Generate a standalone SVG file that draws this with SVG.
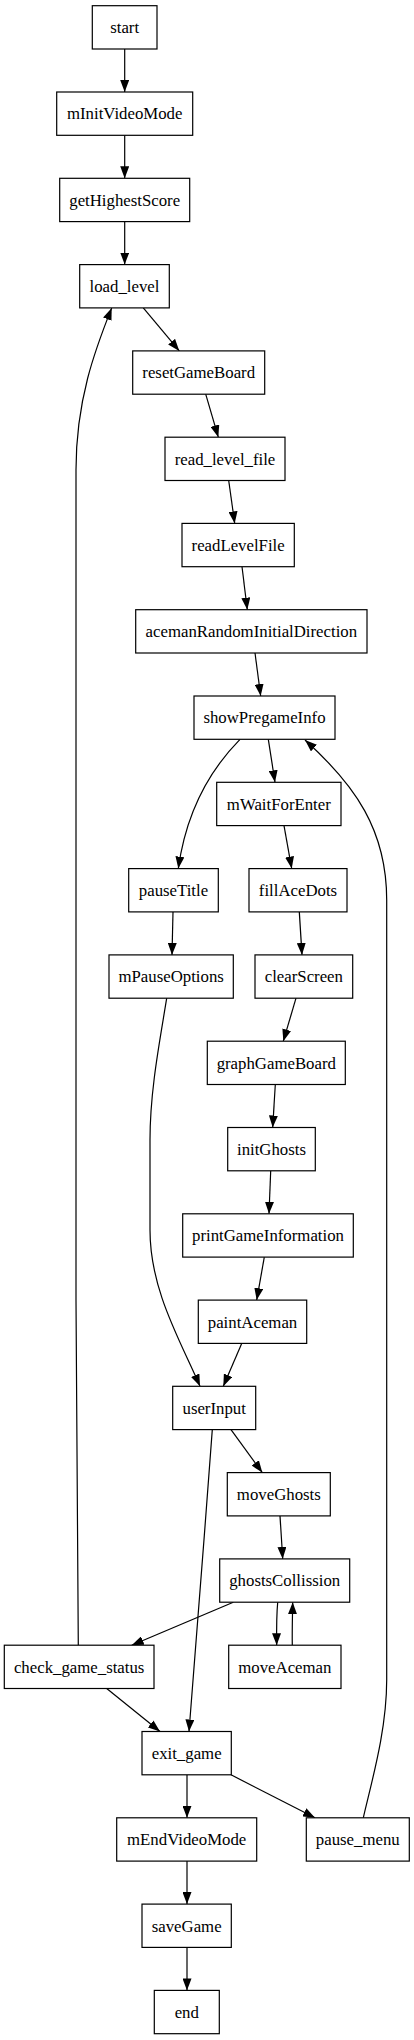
<svg xmlns="http://www.w3.org/2000/svg" width="414" height="2040" viewBox="0 0 414 2040">
<style>
.n rect{fill:#fff;stroke:#000;stroke-width:1.2}
.n text{font-family:"Liberation Serif","Times New Roman",serif;font-size:16.8px;fill:#000;text-anchor:middle}
.e path{fill:none;stroke:#000;stroke-width:1.2;marker-end:url(#ah)}
</style>
<defs>
<marker id="ah" viewBox="0 0 12 9" refX="12" refY="4.5" markerWidth="12" markerHeight="9" markerUnits="userSpaceOnUse" orient="auto">
<path d="M0,0 L12,4.5 L0,9 Z" fill="#000"/>
</marker>
</defs>
<rect width="414" height="2040" fill="#fff"/>
<g id="edges" class="e">
<path d="M124.7,49 L124.7,92"/>
<path d="M124.7,135.3 L124.7,178.3"/>
<path d="M124.7,221.6 L124.7,264.6"/>
<path d="M143.3,307.9 L179.3,350.9"/>
<path d="M205.7,394.2 L218.3,437.2"/>
<path d="M228.7,480.5 L234.7,523.4"/>
<path d="M242,566.7 L247.3,609.7"/>
<path d="M255,653 L260.7,696"/>
<path d="M268.3,739.3 L275,782.3"/>
<path d="M240,739.3 C205,775 185,820 178.3,868.6"/>
<path d="M284,825.6 L291.7,868.6"/>
<path d="M173,911.9 L172,954.9"/>
<path d="M299.3,911.9 L302,954.9"/>
<path d="M296,998.2 L283.3,1041.2"/>
<path d="M275.3,1084.5 L272.7,1127.5"/>
<path d="M270.7,1170.8 L269,1213.8"/>
<path d="M264.3,1257.1 L256.7,1300.1"/>
<path d="M241.7,1343.4 L223.3,1386.3"/>
<path d="M166.7,998.2 C160,1040 150,1090 150,1140 L150,1230 C150,1290 180,1340 200,1386.3"/>
<path d="M231,1429.6 L262.3,1472.6"/>
<path d="M212.3,1429.6 C205,1530 196,1640 189,1731.5"/>
<path d="M280,1515.9 L282.7,1558.9"/>
<path d="M233.3,1602.2 L131.7,1645.2"/>
<path d="M277.7,1602.2 C276.5,1615 276.5,1630 276.7,1645.2"/>
<path d="M292.3,1645.2 C292,1632 292.5,1615 292.7,1602.2"/>
<path d="M78.3,1645.2 C77.5,1550 76,1450 76,1300 L76,470 C76,400 95,350 111.7,307.9"/>
<path d="M106.7,1688.5 L160,1731.5"/>
<path d="M187,1774.8 L187,1817.8"/>
<path d="M231,1774.8 L315,1817.8"/>
<path d="M363.3,1817.8 C372,1780 386.7,1730 386.7,1680 L386.7,900 C386.7,830 355,785 305,740"/>
<path d="M187,1861.1 L187,1904.1"/>
<path d="M187,1947.4 L187,1990.4"/>
</g>
<g id="start" class="n"><rect x="92.3" y="5.7" width="64.7" height="43.3"/><text x="124.65" y="33.15">start</text></g>
<g id="mInitVideoMode" class="n"><rect x="56.7" y="92" width="136" height="43.3"/><text x="124.7" y="119.45">mInitVideoMode</text></g>
<g id="getHighestScore" class="n"><rect x="59.7" y="178.3" width="130" height="43.3"/><text x="124.7" y="205.75">getHighestScore</text></g>
<g id="load_level" class="n"><rect x="79.7" y="264.6" width="89.6" height="43.3"/><text x="124.5" y="292.05">load_level</text></g>
<g id="resetGameBoard" class="n"><rect x="132.7" y="350.9" width="132" height="43.3"/><text x="198.7" y="378.35">resetGameBoard</text></g>
<g id="read_level_file" class="n"><rect x="165" y="437.2" width="120" height="43.3"/><text x="225" y="464.65">read_level_file</text></g>
<g id="readLevelFile" class="n"><rect x="182" y="523.4" width="112.3" height="43.3"/><text x="238.15" y="550.85">readLevelFile</text></g>
<g id="acemanRandomInitialDirection" class="n"><rect x="135.7" y="609.7" width="231.3" height="43.3"/><text x="251.35" y="637.15">acemanRandomInitialDirection</text></g>
<g id="showPregameInfo" class="n"><rect x="194" y="696" width="141" height="43.3"/><text x="264.5" y="723.45">showPregameInfo</text></g>
<g id="mWaitForEnter" class="n"><rect x="216.7" y="782.3" width="124.3" height="43.3"/><text x="278.85" y="809.75">mWaitForEnter</text></g>
<g id="pauseTitle" class="n"><rect x="128.7" y="868.6" width="89.6" height="43.3"/><text x="173.5" y="896.05">pauseTitle</text></g>
<g id="fillAceDots" class="n"><rect x="249" y="868.6" width="98" height="43.3"/><text x="298" y="896.05">fillAceDots</text></g>
<g id="mPauseOptions" class="n"><rect x="109" y="954.9" width="124.3" height="43.3"/><text x="171.15" y="982.35">mPauseOptions</text></g>
<g id="clearScreen" class="n"><rect x="255" y="954.9" width="97.7" height="43.3"/><text x="303.85" y="982.35">clearScreen</text></g>
<g id="graphGameBoard" class="n"><rect x="207.3" y="1041.2" width="138" height="43.3"/><text x="276.3" y="1068.65">graphGameBoard</text></g>
<g id="initGhosts" class="n"><rect x="227.7" y="1127.5" width="87.6" height="43.3"/><text x="271.5" y="1154.95">initGhosts</text></g>
<g id="printGameInformation" class="n"><rect x="182.7" y="1213.8" width="170.6" height="43.3"/><text x="268" y="1241.25">printGameInformation</text></g>
<g id="paintAceman" class="n"><rect x="198.3" y="1300.1" width="108.4" height="43.3"/><text x="252.5" y="1327.55">paintAceman</text></g>
<g id="userInput" class="n"><rect x="172.7" y="1386.3" width="83" height="43.3"/><text x="214.2" y="1413.75">userInput</text></g>
<g id="moveGhosts" class="n"><rect x="227.3" y="1472.6" width="103" height="43.3"/><text x="278.8" y="1500.05">moveGhosts</text></g>
<g id="ghostsCollission" class="n"><rect x="219.7" y="1558.9" width="130" height="43.3"/><text x="284.7" y="1586.35">ghostsCollission</text></g>
<g id="check_game_status" class="n"><rect x="4.3" y="1645.2" width="149.7" height="43.3"/><text x="79.15" y="1672.65">check_game_status</text></g>
<g id="moveAceman" class="n"><rect x="228.7" y="1645.2" width="112.3" height="43.3"/><text x="284.85" y="1672.65">moveAceman</text></g>
<g id="exit_game" class="n"><rect x="142" y="1731.5" width="89.3" height="43.3"/><text x="186.65" y="1758.95">exit_game</text></g>
<g id="mEndVideoMode" class="n"><rect x="116.7" y="1817.8" width="140" height="43.3"/><text x="186.7" y="1845.25">mEndVideoMode</text></g>
<g id="pause_menu" class="n"><rect x="306.3" y="1817.8" width="103" height="43.3"/><text x="357.8" y="1845.25">pause_menu</text></g>
<g id="saveGame" class="n"><rect x="142" y="1904.1" width="89.3" height="43.3"/><text x="186.65" y="1931.55">saveGame</text></g>
<g id="end" class="n"><rect x="154.3" y="1990.4" width="65" height="43.3"/><text x="186.8" y="2017.85">end</text></g>
</svg>
